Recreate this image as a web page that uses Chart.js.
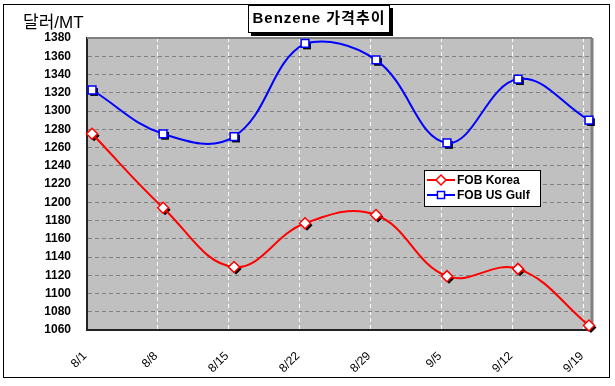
<!DOCTYPE html>
<html>
<head>
<meta charset="utf-8">
<script src="https://cdn.jsdelivr.net/npm/chart.js@4.4.0/dist/chart.umd.min.js"></script>
<style>
  html, body { margin: 0; padding: 0; background: #fff; }
  #wrap { position: relative; width: 615px; height: 386px; }
  #frame { position: absolute; left: 3px; top: 4px; width: 605px; height: 372px; border: 1px solid #000; }
  #chart { position: absolute; left: 0; top: 0; }
  #unit { position: absolute; left: 23px; top: 8px; font: 17px "Liberation Sans", "Noto Sans CJK KR", sans-serif; }
  #title { position: absolute; left: 248px; top: 5px; width: 140px; height: 26px; border: 1px solid #000;
           background: #fff; box-shadow: 3px 3px 0 #000; text-align: center; line-height: 26px; letter-spacing: 1px;
           font: bold 15px "Liberation Sans", "Noto Sans CJK KR", sans-serif; }
</style>
</head>
<body>
<div id="wrap">
  <div id="frame"></div>
  <canvas id="chart" width="615" height="386"></canvas>
  <div id="unit">달러/MT</div>
  <div id="title">Benzene 가격추이</div>
</div>
<script>
// weekly dates on the x axis
const categories = ['8/1', '8/8', '8/15', '8/22', '8/29', '9/5', '9/12', '9/19'];
const fobKorea = [1275, 1194, 1129, 1177, 1186, 1119, 1127, 1065];
const fobUsGulf = [1323, 1275, 1272, 1374, 1356, 1265, 1335, 1290];
const yMin = 1060;
const yMax = 1380;
const yStep = 20;

const daysPerWeek = 7;

function toPoints(values) {
  // points sit in the middle of their day
  return values.map((v, i) => ({ x: i * daysPerWeek + 0.5, y: v }));
}

const font = '"Liberation Sans", Arial, sans-serif';

// grey plot area + top/right frame
const plotBg = {
  id: 'plotBg',
  beforeDraw(chart) {
    const { ctx, chartArea: a } = chart;
    ctx.save();
    ctx.fillStyle = '#c0c0c0';
    ctx.fillRect(a.left, a.top, a.right - a.left, a.bottom - a.top);
    ctx.restore();
  },
  beforeDatasetsDraw(chart) {
    const { ctx, chartArea: a } = chart;
    ctx.save();
    ctx.strokeStyle = '#808080';
    ctx.lineWidth = 2;
    ctx.beginPath();
    ctx.moveTo(a.left, a.top);
    ctx.lineTo(a.right, a.top);
    ctx.stroke();
    ctx.lineWidth = 3;
    ctx.beginPath();
    ctx.moveTo(a.right, a.top);
    ctx.lineTo(a.right, a.bottom);
    ctx.stroke();
    ctx.restore();
  }
};

function markerPath(ctx, style, x, y, r) {
  const s = Math.SQRT1_2 * r;
  ctx.beginPath();
  if (style === 'rect') {
    ctx.rect(x - s, y - s, 2 * s, 2 * s);
  } else {
    ctx.moveTo(x - r, y);
    ctx.lineTo(x, y - r);
    ctx.lineTo(x + r, y);
    ctx.lineTo(x, y + r);
    ctx.closePath();
  }
}

// black drop shadow under each marker
const markerShadow = {
  id: 'markerShadow',
  beforeDatasetDraw(chart, args) {
    const ctx = chart.ctx;
    const ds = chart.data.datasets[args.index];
    ctx.save();
    ctx.fillStyle = '#000';
    args.meta.data.forEach(pt => {
      markerPath(ctx, ds.pointStyle, pt.x + 2, pt.y + 2, ds.pointRadius);
      ctx.fill();
    });
    ctx.restore();
  }
};

// legend box inside the plot
const boxLegend = {
  id: 'boxLegend',
  afterDraw(chart) {
    const ctx = chart.ctx;
    const x = 424, y = 170, w = 116, h = 36;
    ctx.save();
    ctx.fillStyle = '#fff';
    ctx.fillRect(x, y, w, h);
    ctx.strokeStyle = '#000';
    ctx.lineWidth = 1;
    ctx.strokeRect(x + 0.5, y + 0.5, w, h);
    chart.data.datasets.forEach((ds, i) => {
      const cy = y + 10 + i * 15;
      ctx.strokeStyle = ds.borderColor;
      ctx.lineWidth = 2;
      ctx.beginPath();
      ctx.moveTo(x + 3, cy);
      ctx.lineTo(x + 31, cy);
      ctx.stroke();
      markerPath(ctx, ds.pointStyle, x + 17, cy, ds.pointRadius - 0.5);
      ctx.fillStyle = '#fff';
      ctx.fill();
      ctx.lineWidth = 1.5;
      ctx.stroke();
      ctx.fillStyle = '#000';
      ctx.font = 'bold 12px ' + font;
      ctx.textBaseline = 'middle';
      ctx.fillText(ds.label, x + 33, cy + 1);
    });
    ctx.restore();
  }
};

const ctx = document.getElementById('chart').getContext('2d');
const myChart = new Chart(ctx, {
  type: 'line',
  data: {
    datasets: [{
      label: 'FOB Korea',
      data: toPoints(fobKorea),
      borderColor: '#ff0000',
      borderWidth: 2,
      pointStyle: 'rectRot',
      pointRadius: 5.5,
      pointBackgroundColor: '#fff',
      pointBorderColor: '#ff0000',
      pointBorderWidth: 1.5,
      tension: 0.4,
      clip: false
    }, {
      label: 'FOB US Gulf',
      data: toPoints(fobUsGulf),
      borderColor: '#0000ff',
      borderWidth: 2,
      pointStyle: 'rect',
      pointRadius: 5.5,
      pointBackgroundColor: '#fff',
      pointBorderColor: '#0000ff',
      pointBorderWidth: 1.5,
      tension: 0.4,
      clip: false
    }]
  },
  options: {
    responsive: false,
    animation: false,
    events: [],
    layout: { padding: { left: 0, top: 38, right: 23, bottom: 0 } },
    plugins: {
      legend: { display: false },
      tooltip: { enabled: false }
    },
    scales: {
      x: {
        type: 'linear',
        min: 0,
        max: 49.8,
        afterBuildTicks: (scale) => {
          scale.ticks = categories.map((c, i) => ({ value: i * daysPerWeek }));
        },
        afterFit: (scale) => {
          scale.height = 56;
          scale.paddingLeft = 0;
          scale.paddingRight = 0;
        },
        grid: { color: '#ffffff', lineWidth: 1, drawTicks: false },
        border: { color: '#222', width: 2, dash: [4, 3] },
        ticks: {
          minRotation: 45,
          maxRotation: 45,
          padding: 19,
          labelOffset: -2,
          color: '#000',
          font: { family: font, size: 12 },
          callback: (v) => categories[Math.round(v / daysPerWeek)]
        }
      },
      y: {
        min: yMin,
        max: yMax,
        afterFit: (scale) => {
          scale.width = 87;
          scale.paddingTop = 0;
          scale.paddingBottom = 0;
        },
        grid: { color: '#808080', lineWidth: 1, drawTicks: false },
        border: { color: '#222', width: 2, dash: [4, 3] },
        ticks: {
          stepSize: yStep,
          padding: 16,
          color: '#000',
          font: { family: font, size: 12, weight: 'bold' },
          callback: (v) => String(v)
        }
      }
    }
  },
  plugins: [plotBg, markerShadow, boxLegend]
});
</script>
</body>
</html>
